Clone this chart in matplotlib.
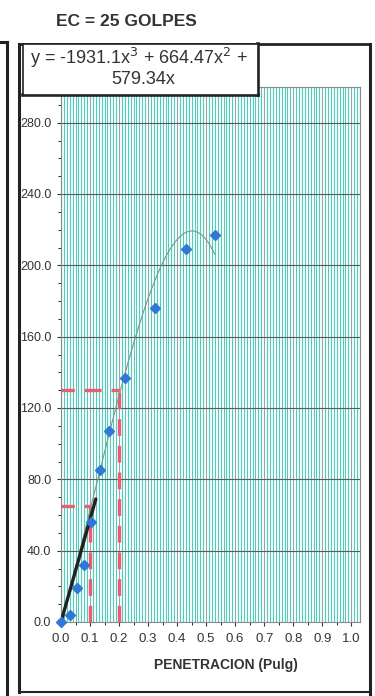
import matplotlib
matplotlib.use("Agg")
import matplotlib.pyplot as plt
import numpy as np
from matplotlib.patches import Rectangle
from matplotlib.lines import Line2D

plt.rcParams['font.family'] = ['Liberation Sans', 'DejaVu Sans']

# CBR test data: penetration (in) vs load
penetracion = [0.0, 0.03, 0.055, 0.08, 0.103, 0.135, 0.165, 0.22, 0.324, 0.43, 0.53]
carga = [0.0, 4.0, 19.0, 32.0, 56.0, 85.0, 107.0, 137.0, 176.0, 209.0, 217.0]

# polynomial trend line coefficients (x^3, x^2, x)
coef = [-1931.1, 664.47, 579.34]

# corrected tangent line
tangente_x = [0.0, 0.12]
tangente_y = [0.0, 69.0]

# reading lines at 0.1 and 0.2 in
lectura_x = [0.1, 0.2]
lectura_y = [65.0, 130.0]

x_ticks = [0.0, 0.1, 0.2, 0.3, 0.4, 0.5, 0.6, 0.7, 0.8, 0.9, 1.0]
y_ticks = [0, 40, 80, 120, 160, 200, 240, 280]

fig = plt.figure(figsize=(3.75, 6.96), dpi=100)
ax = fig.add_axes([61 / 375, 74 / 696, 299 / 375, 535 / 696])
ax.set_facecolor('#ebfcfa')
ax.set_xlim(0, 1.03)
ax.set_ylim(0, 300)

# dense vertical grid
for v in np.arange(0.01, 1.03, 0.01):
    major = abs(v * 10 - round(v * 10)) < 1e-6
    ax.axvline(v, color='#9a9a9a' if major else '#4cc2b2', lw=0.65, zorder=1)
for h in y_ticks[1:]:
    ax.axhline(h, color='#5a5a5a', lw=0.8, zorder=1.5)

xx = np.linspace(0, max(penetracion), 200)
yy = coef[0] * xx**3 + coef[1] * xx**2 + coef[2] * xx
ax.plot(xx, yy, color='#7a9a80', lw=0.8, zorder=3)

ax.plot(penetracion, carga, 'D', color='#2f78d6', ms=5.2, mec='#2f78d6',
        zorder=5, clip_on=False)

ax.plot(tangente_x, tangente_y, color='#222222', lw=2.4, zorder=4,
        solid_capstyle='round')

for lx, ly in zip(lectura_x, lectura_y):
    ax.plot([lx, lx], [0, ly], color='#ef5a72', lw=2.4, ls=(0, (5, 3)), zorder=2.5)
    ax.plot([0, lx], [ly, ly], color='#ef5a72', lw=2.4, ls=(1, (5, 3)), zorder=2.5)

ax.set_xticks(x_ticks)
ax.set_xticklabels([f"{t:.1f}" for t in x_ticks])
ax.set_yticks(y_ticks)
ax.set_yticklabels([f"{t:.1f}" for t in y_ticks])
ax.set_yticks(np.arange(0, 300, 10), minor=True)
ax.set_xticks(np.arange(0, 1.03, 0.05), minor=True)
ax.tick_params(axis='both', labelsize=9.5, colors='#333333', length=3, width=0.8)
ax.tick_params(axis='y', labelsize=9)
ax.tick_params(axis='both', which='minor', length=2, width=0.6)
ax.tick_params(axis='x', pad=5)
ax.tick_params(axis='y', pad=4)
for s in ax.spines.values():
    s.set_color('#888888')
    s.set_linewidth(0.8)

fig.text(226 / 375, 1 - 665 / 696, 'PENETRACION (Pulg)', ha='center', va='center',
         fontsize=10, fontweight='bold', color='#333333')
fig.text(126 / 375, 1 - 21 / 696, 'EC = 25 GOLPES', ha='center', va='center',
         fontsize=12.5, fontweight='bold', color='#333333')

# outer frames
W, H = 375, 696
def fline(x0, y0, x1, y1, lw):
    fig.add_artist(Line2D([x0 / W, x1 / W], [1 - y0 / H, 1 - y1 / H],
                          color='#222222', lw=lw, zorder=10))

fline(7, 42, 7, 696, 2.2)
fline(0, 42, 7, 42, 2.2)
fline(19, 44, 19, 692, 2.2)
fline(19, 44, 370, 44, 2.0)
fline(370, 44, 370, 696, 2.2)
fline(19, 692, 370, 692, 1.5)

# equation box
fig.add_artist(Rectangle((23 / W, 1 - 95 / H), 235 / W, 51 / H, transform=fig.transFigure,
                         facecolor='white', edgecolor='#222222', lw=1.2, zorder=11))
fline(23, 95, 258, 95, 2.6)
fline(258, 44, 258, 95, 2.6)
fig.text(139 / W, 1 - 58 / H, r'y = -1931.1x$^3$ + 664.47x$^2$ +', ha='center', va='center',
         fontsize=13, color='#333333', zorder=12)
fig.text(143 / W, 1 - 80 / H, '579.34x', ha='center', va='center',
         fontsize=13, color='#333333', zorder=12)

fig.savefig('out.png', dpi=100)
